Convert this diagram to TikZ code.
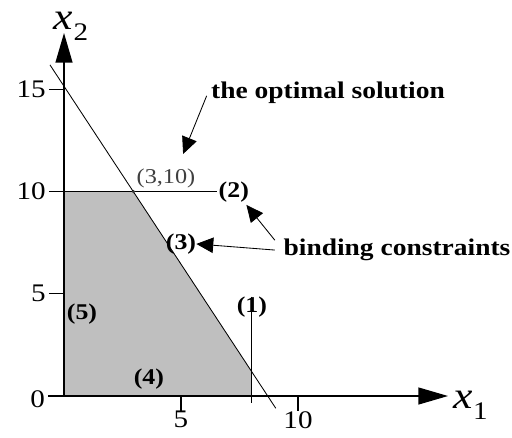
\documentclass[tikz,border=0pt]{standalone}
\usepackage{fontspec}
\setmainfont[FakeStretch=1.15]{Liberation Serif}
\usetikzlibrary{arrows.meta, positioning}

\begin{document}
\begin{tikzpicture}[x=0.585cm, y=0.511cm,
  tick/.style={font=\fontsize{18}{18}\selectfont, inner sep=2pt},
  lab/.style={font=\fontsize{16}{16}\selectfont\bfseries, inner sep=0pt},
  note/.style={font=\fontsize{17}{17}\selectfont\bfseries, inner sep=0pt},
  axlab/.style={font=\fontsize{27}{27}\selectfont\itshape, inner sep=0pt},
  sub/.style={font=\fontsize{18}{18}\selectfont, inner sep=0pt},
  arr/.style={-{Triangle[length=12pt, width=11pt]}, line width=0.6pt},
  axarr/.style={-{Triangle[length=21pt, width=12pt]}, line width=1pt}]
\useasboundingbox (-2.735,-2.006) rectangle (19.145,19.374);

% Feasible region
\fill[black!25] (0,0) -- (0,10) -- (2.97,10) -- (8,1.23) -- (8,0) -- cycle;

% Axes
\coordinate (o) at (0,0);
\coordinate (xs) at (-0.68,0);
\coordinate (xe) at (16.41,0);
\coordinate (ye) at (0,17.76);
\draw[axarr] (xs) -- (xe);
\draw[axarr] (o) -- (ye);
\node[axlab, anchor=base west] (x1) at (16.62,-0.59) {x};
\node[sub, anchor=base west] (x1s) at ([yshift=-8pt]x1.base east) {1};
\node[axlab, anchor=base west] (x2) at (-0.45,17.95) {x};
\node[sub, anchor=base west] (x2s) at ([yshift=-8pt]x2.base east) {2};

% Ticks
\foreach \y in {5,10,15} {
  \draw[line width=0.8pt] (-0.65,\y) -- (0,\y);
  \node[tick, left] at (-0.65,\y) {\y};
}
\node[tick, left] (t0) at (-0.68,-0.15) {0};
\foreach \x in {5,10} {
  \draw[line width=0.8pt] (\x,0) -- (\x,-0.73);
  \node[tick, below, inner sep=0pt] at (\x,-0.73) {\x};
}

% Constraints
\coordinate (c3a) at (-0.6,16.2);
\coordinate (c3b) at (9.05,-0.6);
\draw[line width=0.6pt] (c3a) -- (c3b);
\coordinate (c2a) at (0,10);
\coordinate (c2b) at (6.54,10);
\draw[line width=0.8pt] (c2a) -- (c2b);
\node[lab, right=1pt of c2b] (c2) {(2)};
\node[lab] (c1) at (8.03,4.35) {(1)};
\coordinate (c1b) at (8,-0.35);
\draw[line width=0.8pt] (c1.north -| c1b) -- (c1b);
\node[lab] (c3) at (5.0,7.44) {(3)};
\node[lab] (c4) at (3.63,0.83) {(4)};
\node[lab] (c5) at (0.77,4.01) {(5)};

% Optimal point
\coordinate (opt) at (2.97,10);
\fill[black!80] (opt) circle (1.3pt);
\node[font=\fontsize{15}{15}\selectfont, text=black!75, inner sep=0pt] (optlab) at (4.36,10.66) {(3,10)};

% Notes
\node[note] (sol) at (11.28,14.82) {the optimal solution};
\coordinate (solt) at (5.09,11.84);
\draw[arr] ([xshift=-3pt,yshift=-2pt]sol.west) -- (solt);
\node[note] (bind) at (14.23,7.14) {binding constraints};
\draw[arr] ([xshift=-6pt]bind.west) -- (c3.east);
\draw[arr] ([xshift=-6pt,yshift=7pt]bind.west) -- ([xshift=-2pt,yshift=-2pt]c2.south east);
\end{tikzpicture}
\end{document}
